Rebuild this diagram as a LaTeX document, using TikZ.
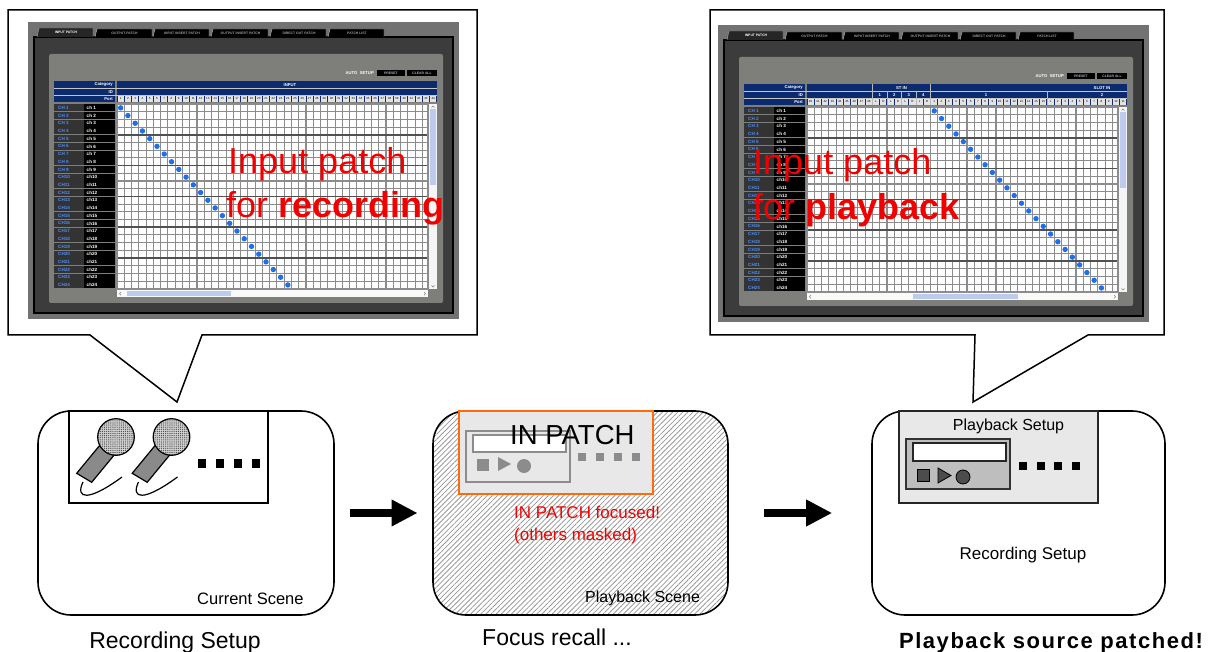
\documentclass[tikz,border=0pt]{standalone}
\usepackage{fontspec}
\setmainfont{Liberation Sans}
\usetikzlibrary{arrows.meta,patterns.meta}
\definecolor{shotouter}{HTML}{727272}
\definecolor{shotframe}{HTML}{3C3C3C}
\definecolor{shotpanel}{HTML}{7E7F7B}
\definecolor{navyhdr}{HTML}{0C2B6E}
\definecolor{chblue}{HTML}{4F8DF0}
\definecolor{dotblue}{HTML}{1F6FEA}
\definecolor{gridgray}{HTML}{8C8C8C}
\definecolor{griddark}{HTML}{505050}
\definecolor{redtxt}{HTML}{F20000}
\definecolor{orangeb}{HTML}{FF6A0A}
\definecolor{boxgray}{HTML}{E8E8E8}
\definecolor{recgray}{HTML}{BEBEBE}
\definecolor{maskgray}{HTML}{8C8C8C}
\definecolor{thumbblue}{HTML}{BCCBEE}
\definecolor{hatchgray}{HTML}{9A9A9A}
\definecolor{handlegray}{HTML}{8A8A8A}

\tikzset{
  scenebox/.style={draw=black, line width=1.6pt, rounded corners=33pt, inner sep=0pt, minimum height=204pt},
  callout/.style={draw=black, line width=1.5pt, fill=white, line join=miter},
  bigarrow/.style={line width=8pt, -{Triangle[length=26pt,width=25pt]}},
  tinyw/.style={inner sep=0pt, text=white, font=\fontsize{4.2}{4.2}\selectfont\bfseries},
  tinyn/.style={inner sep=0pt, text=black, font=\fontsize{3}{3}\selectfont},
  tabtxt/.style={inner sep=0pt, font=\fontsize{3.4}{3.4}\selectfont\bfseries},
  chlab/.style={inner sep=0pt, anchor=west, font=\fontsize{4.6}{4.6}\selectfont\bfseries},
  bigred/.style={inner sep=0pt, anchor=base west, text=redtxt, font=\fontsize{36}{40}\selectfont},
  lbl/.style={inner sep=0pt, anchor=base west},
  caption/.style={inner sep=0pt, anchor=base, font=\fontsize{23}{26}\selectfont},
  gline/.style={gridgray, line width=1.1pt},
  gthick/.style={griddark, line width=1.7pt},
  chev/.style={gray, line width=0.5pt},
}

% common parts of a patch screenshot (coordinates of the left one)
\newcommand\patchshot[1]{%
  \fill[shotouter] (28,22) rectangle (459,319);
  \draw[fill=shotframe, draw=black, line width=1.2pt] (34,37) rectangle (453,313);
  % tabs
  \draw[fill=black!85, draw=gray!70, line width=0.4pt] (37,37) -- (39,28) -- (93,28) -- (93,37);
  \node[tabtxt, text=white] (#1tab1) at (66,32.5) {INPUT PATCH};
  \foreach \xa/\xb/\tn [count=\k from 2] in {95/152/OUTPUT PATCH, 153/209/INPUT INSERT PATCH, 211/268/OUTPUT INSERT PATCH, 270/326/DIRECT OUT PATCH, 328/384/PATCH LIST}{
    \draw[fill=black, draw=gray!60, line width=0.4pt] (\xa,37) -- (\xa+2,29) -- (\xb,29) -- (\xb,37);
    \node[tabtxt, text=gray!75] (#1tab\k) at ({(\xa+\xb)/2+1},33) {\tn};
  }
  \fill[shotpanel, rounded corners=2pt] (49,54) rectangle (443,303);
  % auto setup
  \node[tinyw, anchor=east] (#1auto) at (374,73) {AUTO\ \ SETUP};
  \fill[black] (377,70) rectangle (405,76);
  \node[tabtxt, text=gray!60] (#1preset) at (391,73) {PRESET};
  \fill[black] (407,70) rectangle (437,76);
  \node[tabtxt, text=gray!60] (#1clear) at (422,73) {CLEAR ALL};
  % header rows
  \fill[navyhdr] (54,81) rectangle (115,102);
  \fill[navyhdr] (117,81) rectangle (437,102);
  \draw[gray!45, line width=0.5pt] (54,88) -- (437,88) (54,95) -- (437,95);
  \node[tinyw, anchor=east] (#1cat) at (113,84.6) {Category};
  \node[tinyw, anchor=east] (#1id) at (113,91.6) {ID};
  \node[tinyw, anchor=east] (#1port) at (113,98.6) {Port};
  \foreach \i in {0,...,43}{
    \fill[gray!22] ({117+\i*7.27+0.5},95.8) rectangle ({117+(\i+1)*7.27-0.5},101.6);
  }
  % channel labels
  \foreach \r in {1,...,24}{
    \pgfmathsetmacro\yt{104+(\r-1)*7.7}
    \fill[black!80] (54,\yt+0.35) rectangle (84,\yt+7.35);
    \fill[black] (84,\yt+0.35) rectangle (115,\yt+7.35);
    \node[chlab, text=chblue] (#1CH\r) at (58,\yt+3.9) {\ifnum\r<10 CH\ \r\else CH\r\fi};
    \node[chlab, text=white] (#1ch\r) at (86.5,\yt+3.9) {\ifnum\r<10 ch\ \r\else ch\r\fi};
  }
  % grid
  \fill[white] (117,104) rectangle (428,289);
  \begin{scope}
    \clip (117,104) rectangle (428,289);
    \foreach \i in {1,...,43}{
      \draw[gline] ({117+\i*7.27},104) -- ({117+\i*7.27},289);
    }
  \end{scope}
  \foreach \r in {1,...,23}{
    \draw[gline] (117,{104+\r*7.7}) -- (428,{104+\r*7.7});
  }
  \foreach \r in {4,8,12,16,20}{
    \draw[gthick] (117,{104+\r*7.7}) -- (428,{104+\r*7.7});
  }
  \draw[gline] (117,104) rectangle (428,289);
  % scrollbars
  \fill[gray!8] (429,104) rectangle (437,289);
  \fill[thumbblue] (430,109) rectangle (436,185);
  \draw[chev] (431.5,107.5) -- (433,106) -- (434.5,107.5);
  \draw[chev] (431.5,285.5) -- (433,287) -- (434.5,285.5);
  \fill[gray!5] (117,290) rectangle (428,297.5);
  \draw[chev] (121,292) -- (119.5,293.7) -- (121,295.4);
  \draw[chev] (424,292) -- (425.5,293.7) -- (424,295.4);
}

\begin{document}
\begin{tikzpicture}[x=1pt,y=-1pt]
\useasboundingbox (0,0) rectangle (1213,652);
\fill[white] (0,0) rectangle (1213,652);

% ---------- callouts ----------
\coordinate (tipL) at (177,402);
\coordinate (tipR) at (973,402);
\path[callout] (90,335) -- (8,335) -- (8,10) -- (477,10) -- (477,335) -- (202,335) -- (tipL) -- cycle;
\path[callout] (975,335) -- (710,335) -- (710,10) -- (1164,10) -- (1164,335) -- (1088,335) -- (tipR) -- cycle;

% ---------- left screenshot ----------
\patchshot{L}
\node[tinyw] (Linput) at (290,84.6) {INPUT};
\foreach \i in {1,...,44}{
  \node[tinyn] (Lp\i) at ({117+(\i-0.5)*7.27},98.8) {\i};
}
\fill[thumbblue] (127,291) rectangle (231,296.5);
\foreach \r in {0,...,23}{
  \fill[dotblue] ({117+(\r+0.5)*7.27},{104+(\r+0.5)*7.7}) circle (2.7);
}
\node[bigred] (redL1) at (228,174) {Input patch};
\node[bigred] (redL2) at (226,218) {for \textbf{recording}};

% ---------- right screenshot ----------
\begin{scope}[shift={(690,3)}]
\patchshot{R}
\draw[gray!55, line width=0.5pt] (182.4,81) -- (182.4,102) (240.6,81) -- (240.6,102);
\draw[gray!55, line width=0.5pt] (197,88) -- (197,102) (211.5,88) -- (211.5,102) (226,88) -- (226,102) (356.9,88) -- (356.9,102);
\node[tinyw] (Rstin) at (211.5,84.6) {ST IN};
\node[tinyw] (Rslotin) at (412,84.6) {SLOT IN};
\foreach \k in {1,...,4}{
  \node[tinyw] (Rid\k) at ({117+(9+2*\k-1)*7.27},91.6) {\k};
}
\node[tinyw] (Rids1) at (296,91.6) {1};
\node[tinyw] (Rids2) at (412,91.6) {2};
\foreach \t [count=\i from 0] in {40,41,42,43,44,45,46,47,48,L,R,L,R,L,R,L,R,1,2,3,4,5,6,7,8,9,10,11,12,13,14,15,16,1,2,3,4,5,6,7,8,9,10,11}{
  \node[tinyn] (Rp\i) at ({117+(\i+0.5)*7.27},98.8) {\t};
}
\fill[thumbblue] (223,291) rectangle (328,296.5);
\foreach \r in {0,...,23}{
  \fill[dotblue] ({117+(\r+17.5)*7.27},{104+(\r+0.5)*7.7}) circle (2.7);
}
\end{scope}
\node[bigred] (redR1) at (753,175) {Input patch};
\node[bigred] (redR2) at (753,220) {for \textbf{playback}};

% ---------- scene boxes ----------
\node[scenebox, fill=white, minimum width=296pt] (box1) at (186,513) {};
\node[scenebox, preaction={fill=white}, pattern={Lines[angle=45,distance=3.6pt,line width=0.8pt]}, pattern color=hatchgray, minimum width=295pt] (box2) at (580.5,513) {};
\node[scenebox, fill=white, minimum width=293pt] (box3) at (1018.5,513) {};

% box 1 : microphones
\draw[fill=white, draw=black, line width=1.5pt] (69,411) rectangle (268,503);
\foreach \dx in {0,55.5}{
  \begin{scope}[xshift=\dx]
    \draw[line width=1.2pt] (83,482) .. controls (75,499) and (88,502) .. (122,477);
    \draw[fill=handlegray, draw=black, line width=1.2pt] (76.7,473.3) -- (91.7,482.3) -- (115,454) -- (100,445) -- cycle;
    \draw[preaction={fill=gray!35}, pattern={Dots[distance=1.9pt,radius=0.55pt]}, pattern color=black!75, draw=black, line width=1.2pt] (116,437) circle (18.3);
  \end{scope}
}
\foreach \xs in {198,216,234,252}{
  \fill[black] (\xs,459) rectangle (\xs+8,468);
}
\node[lbl, font=\fontsize{16.5}{18}\selectfont] (cur) at (197,604) {Current Scene};

% box 2 : focused IN PATCH
\draw[fill=boxgray, draw=orangeb, line width=2pt] (459,411) rectangle (653,494);
\draw[draw=maskgray, line width=1.5pt] (466,431) rectangle (570,482);
\draw[fill=white, draw=maskgray, line width=1.5pt] (473,435) rectangle (566,452);
\fill[maskgray] (477,459) rectangle (489,471);
\fill[maskgray] (498,457) -- (498,471) -- (511,464) -- cycle;
\fill[maskgray] (524,466) circle (7);
\foreach \xs in {578,596,614,632}{
  \fill[maskgray] (\xs,453) rectangle (\xs+8,461);
}
\node[lbl, font=\fontsize{27.5}{30}\selectfont] (inpatch) at (510,444) {IN PATCH};
\node[lbl, text=redtxt, font=\fontsize{17}{19}\selectfont] (foc1) at (514,518) {IN PATCH focused!};
\node[lbl, text=redtxt, font=\fontsize{17}{19}\selectfont] (foc2) at (514,540) {(others masked)};
\node[lbl, font=\fontsize{16}{18}\selectfont] (pbs) at (585,602) {Playback Scene};

% box 3 : playback setup
\draw[fill=boxgray, draw=black!85, line width=1.5pt] (899,411) rectangle (1098,503);
\node[inner sep=0pt, anchor=base, font=\fontsize{16}{18}\selectfont] (pbset) at (1008.5,430) {Playback Setup};
\draw[fill=recgray, draw=black!80, line width=1.5pt] (906,439) rectangle (1010,489);
\draw[fill=white, draw=black!85, line width=1.4pt] (913,443) rectangle (1006,461);
\draw[fill=black!70, draw=black, line width=0.8pt] (917,469) rectangle (929,481);
\draw[fill=black!70, draw=black, line width=0.8pt] (938,468) -- (938,483) -- (951,475.5) -- cycle;
\draw[fill=black!70, draw=black, line width=0.8pt] (963,477) circle (7);
\foreach \xs in {1019,1036.5,1054,1071.5}{
  \fill[black] (\xs,462) rectangle (\xs+8,470);
}
\node[inner sep=0pt, anchor=base, font=\fontsize{17}{19}\selectfont] (recset) at (1023,559) {Recording Setup};

% ---------- arrows ----------
\draw[bigarrow, shorten <=15pt, shorten >=15pt] (box1.east) -- (box2.west);
\draw[bigarrow, shorten <=36pt, shorten >=39pt] (box2.east) -- (box3.west);

% ---------- captions ----------
\node[caption] (cap1) at (175,648) {Recording Setup};
\node[caption] (cap2) at (557,645) {Focus recall ...};
\node[caption, font=\fontsize{22}{26}\selectfont\bfseries\addfontfeature{LetterSpace=7}] (cap3) at (1051,648) {Playback source patched!};
\end{tikzpicture}
\end{document}
